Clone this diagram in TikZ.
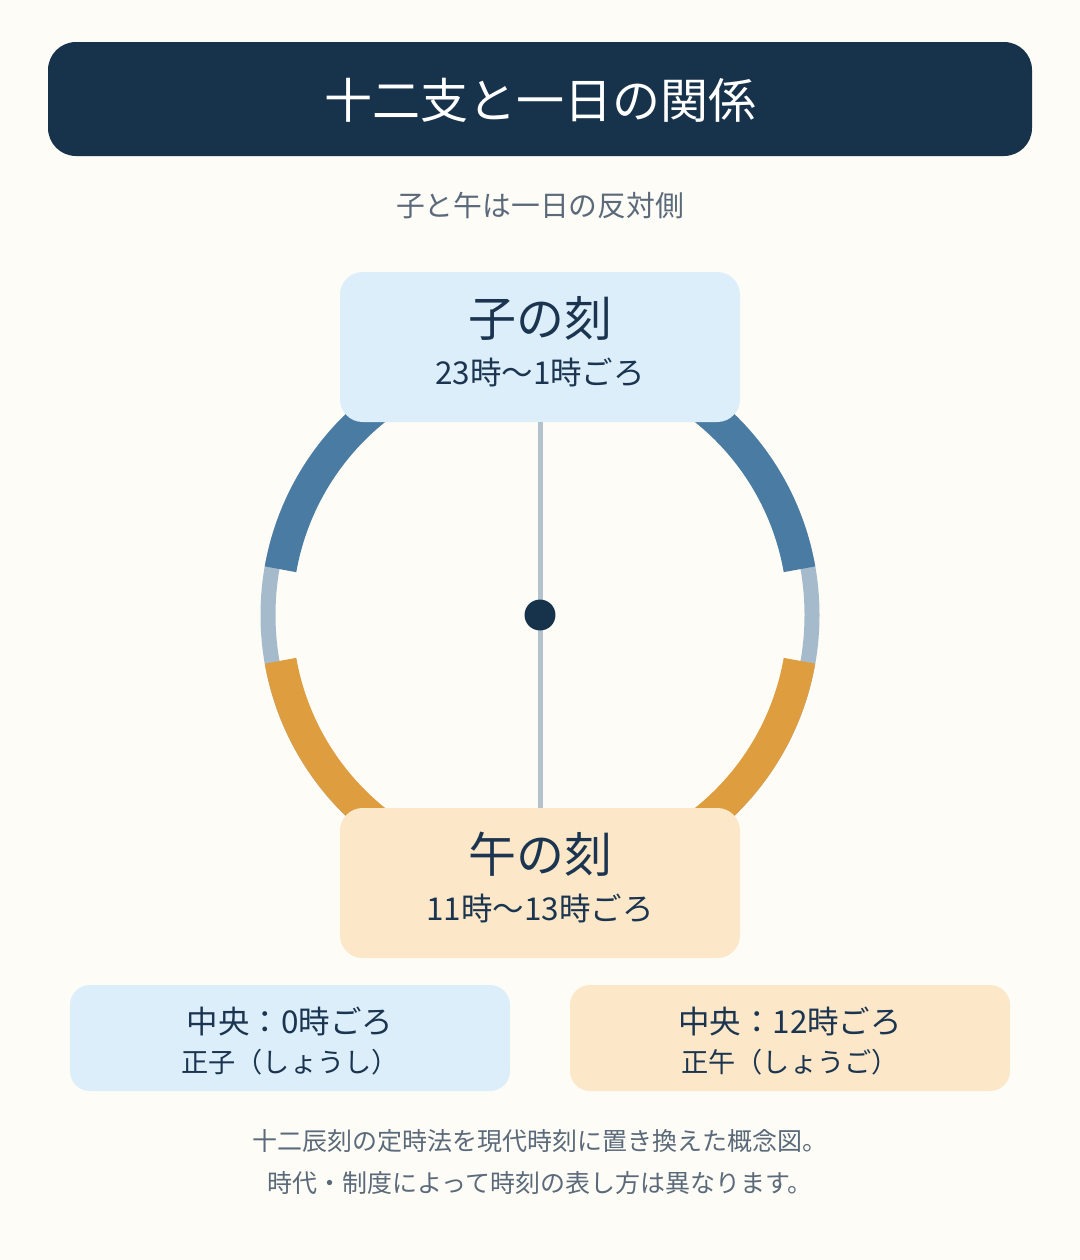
\documentclass[tikz,border=0pt]{standalone}
\usepackage{fontspec}
\setmainfont{Noto Sans CJK JP}
\usepackage{xcolor}
\usepackage{tikz}
\usetikzlibrary{calc, positioning}
\definecolor{Paper}{HTML}{FDFCF6}
\definecolor{Navy}{HTML}{17324B}
\definecolor{InkNavy}{HTML}{1B3550}
\definecolor{InkGrey}{HTML}{5B6A7A}
\definecolor{SkyFill}{HTML}{DCEEFA}
\definecolor{PeachFill}{HTML}{FCE8C9}
\definecolor{NeBlue}{HTML}{4A7BA3}
\definecolor{UmaOrange}{HTML}{DE9D3F}
\definecolor{RingGrey}{HTML}{A5BBCB}
\definecolor{AxisGrey}{HTML}{B3C2CD}

\begin{document}
\begin{tikzpicture}[x=0.75pt, y=-0.75pt,
  kokubox/.style={minimum width=300pt, minimum height=112.5pt, rounded corners=17pt, inner sep=0pt},
  notebox/.style={minimum width=330pt, minimum height=79.5pt, rounded corners=15pt, inner sep=0pt},
  bigtxt/.style={text=InkNavy, font=\fontsize{36}{40}\selectfont, inner sep=0pt},
  midtxt/.style={text=InkNavy, font=\fontsize{23.6}{27}\selectfont, inner sep=0pt},
  smalltxt/.style={text=InkNavy, font=\fontsize{20.4}{24}\selectfont, inner sep=0pt},
  greytxt/.style={text=InkGrey, font=\fontsize{18.75}{22}\selectfont, inner sep=0pt}]
  \fill [Paper] (0,0) rectangle (1080,1260);
  \useasboundingbox (0,0) rectangle (1080,1260);

  % title
  \node [fill=Navy, minimum width=738pt, minimum height=85.5pt, rounded corners=21pt] (title) at (540,99) {};
  \node [text=white, font=\fontsize{36}{40}\selectfont, inner sep=0pt] (titletxt) at (540,100) {十二支と一日の関係};
  \node [text=InkGrey, font=\fontsize{21.6}{25}\selectfont, inner sep=0pt] (subtitle) at (540,206) {子と午は一日の反対側};

  % dial
  \coordinate (hub) at (540,615);
  \draw [RingGrey, line width=11.25pt] (hub) circle [radius=204pt];
  \draw [NeBlue, line width=24pt] ([shift={(10:197.6pt)}]hub) arc [start angle=10, end angle=170, radius=197.6pt];
  \draw [UmaOrange, line width=24pt] ([shift={(-10:197.6pt)}]hub) arc [start angle=-10, end angle=-170, radius=197.6pt];

  \node [kokubox, fill=SkyFill] (ne) at (540,347) {};
  \node [kokubox, fill=PeachFill] (uma) at (540,883) {};
  \draw [AxisGrey, line width=3.75pt] (ne.south) -- (uma.north);
  \fill [Navy] (hub) circle [radius=11.6pt];

  \node [bigtxt] (nename) at (540,318) {子の刻};
  \node [midtxt] (netime) at (540,372) {23時〜1時ごろ};
  \node [bigtxt] (umaname) at (540,854) {午の刻};
  \node [midtxt] (umatime) at (540,908) {11時〜13時ごろ};

  % notes
  \node [notebox, fill=SkyFill] (nenote) at (290,1038) {};
  \node [notebox, fill=PeachFill] (umanote) at (790,1038) {};
  \node [midtxt] (nemid) at (290,1021) {中央：0時ごろ};
  \node [smalltxt] (neshou) at (290,1062) {正子（しょうし）};
  \node [midtxt] (umamid) at (790,1021) {中央：12時ごろ};
  \node [smalltxt] (umashou) at (790,1062) {正午（しょうご）};

  % footer
  \node [greytxt] (foot1) at (540,1141) {十二辰刻の定時法を現代時刻に置き換えた概念図。};
  \node [greytxt] (foot2) at (540,1183) {時代・制度によって時刻の表し方は異なります。};
\end{tikzpicture}
\end{document}
